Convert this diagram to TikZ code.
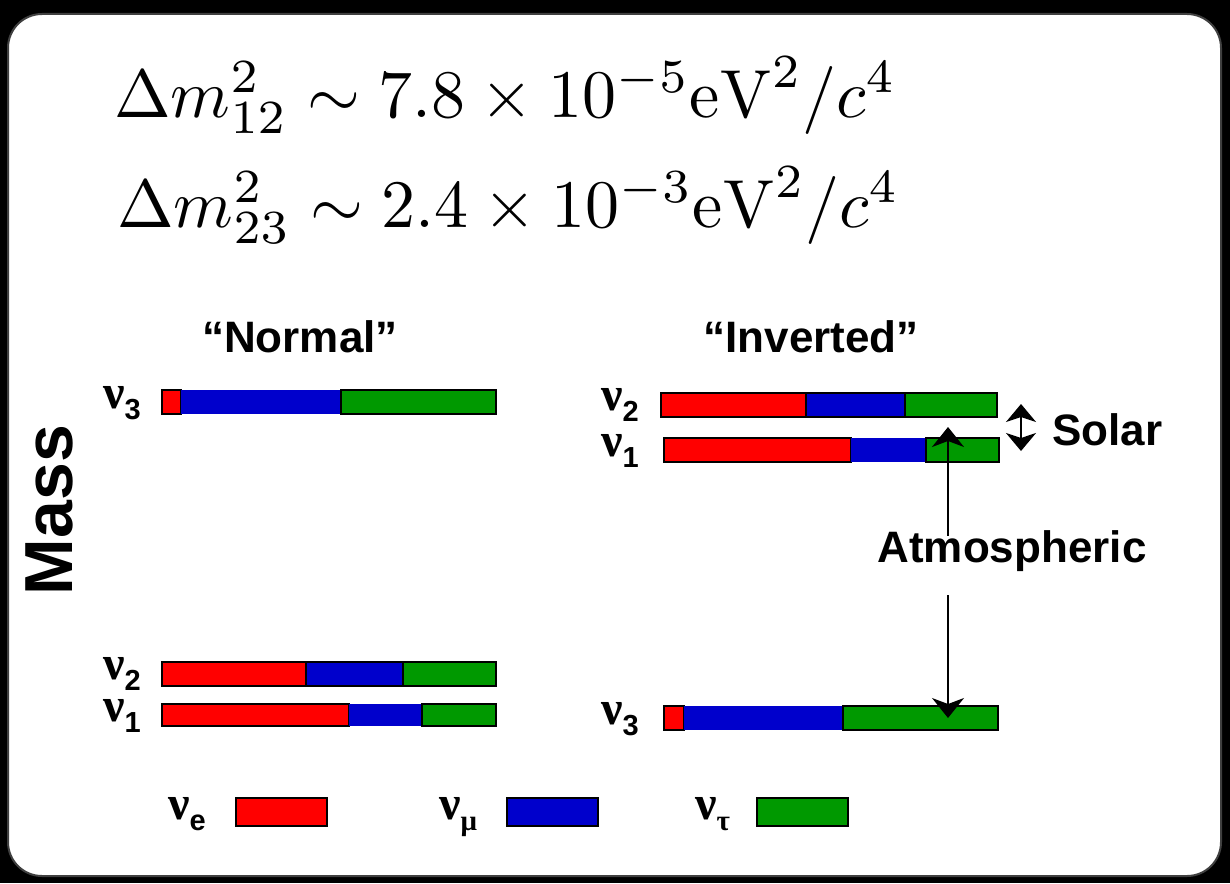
\documentclass[tikz,border=0pt]{standalone}
\usepackage[no-math]{fontspec}
\setmainfont{Liberation Sans}
\newfontfamily\nufont{Liberation Serif}
\usepackage{graphicx}
\usepackage{tikz}
\usetikzlibrary{arrows.meta,positioning}
\definecolor{nue}{HTML}{FF0000}
\definecolor{num}{HTML}{0000CC}
\definecolor{nut}{HTML}{009900}
\newcommand{\nulab}[1]{{\nufont\bfseries\fontsize{48}{48}\selectfont ν}\raisebox{-11pt}{\fontsize{29}{29}\selectfont\bfseries #1}}

\begin{document}
\begin{tikzpicture}[
  x=1pt, y=-1pt,
  seg/.style={rectangle,draw=black,line width=1.2pt,minimum height=24,
              inner sep=0pt,outer sep=0pt,anchor=west},
  key/.style={seg,minimum width=91,minimum height=28},
  lbl/.style={font=\fontsize{44}{48}\selectfont\bfseries,inner sep=0pt},
  nul/.style={inner sep=0pt,anchor=base west},
  eq/.style={inner sep=0pt,anchor=base west},
  arr/.style={-{Stealth[length=20pt,width=32pt,inset=6pt]},line width=1.6pt},
  arrs/.style={{Stealth[length=18pt,width=30pt,inset=5pt]}-{Stealth[length=18pt,width=30pt,inset=5pt]},
               line width=1.6pt},
]
% --- frame -----------------------------------------------------------------
\fill[black] (0,0) rectangle (1230,883);
\draw[fill=white,draw=gray!50!black,line width=2pt,rounded corners=34] (8,14) rectangle (1221,876);

% --- mass splittings --------------------------------------------------------
\node[eq] (dm12) at (114,117) {\scalebox{6.8}{$\Delta m^2_{12} \sim 7.8\times10^{-5}\mathrm{eV}^2/c^4$}};
\node[eq] (dm23) at (117,227) {\scalebox{6.8}{$\Delta m^2_{23} \sim 2.4\times10^{-3}\mathrm{eV}^2/c^4$}};

% --- headings --------------------------------------------------------------
\node[lbl,anchor=base] (hnorm) at (300,352) {“Normal”};
\node[lbl,anchor=base] (hinv)  at (811,352) {“Inverted”};
\node[lbl,font=\fontsize{68}{70}\selectfont\bfseries,rotate=90,anchor=base] (mass) at (72,510) {Mass};

% --- normal ordering ---------------------------------------------------------
\node[seg,fill=nue,minimum width=19] (n3e) at (162,402) {};
\node[seg,fill=num,draw=none,minimum width=160,right=0pt of n3e] (n3m) {};
\node[seg,fill=nut,minimum width=155,right=0pt of n3m] (n3t) {};

\node[seg,fill=nue,minimum width=144] (n2e) at (162,674) {};
\node[seg,fill=num,minimum width=97,right=0pt of n2e] (n2m) {};
\node[seg,fill=nut,minimum width=93,right=0pt of n2m] (n2t) {};

\node[seg,fill=nue,minimum width=187,minimum height=22] (n1e) at (162,715) {};
\node[seg,fill=num,draw=none,minimum width=73,minimum height=22,right=0pt of n1e] (n1m) {};
\node[seg,fill=nut,minimum width=74,minimum height=22,right=0pt of n1m] (n1t) {};

\node[nul] (ln3) at (103,408) {\nulab{3}};
\node[nul] (ln2) at (103,679) {\nulab{2}};
\node[nul] (ln1) at (103,721) {\nulab{1}};

% --- inverted ordering -------------------------------------------------------
\node[seg,fill=nue,minimum width=145] (i2e) at (661,405) {};
\node[seg,fill=num,minimum width=99,right=0pt of i2e] (i2m) {};
\node[seg,fill=nut,minimum width=92,right=0pt of i2m] (i2t) {};

\node[seg,fill=nue,minimum width=187] (i1e) at (664,450) {};
\node[seg,fill=num,draw=none,minimum width=75,right=0pt of i1e] (i1m) {};
\node[seg,fill=nut,minimum width=73,right=0pt of i1m] (i1t) {};

\node[seg,fill=nue,minimum width=20] (i3e) at (664,718) {};
\node[seg,fill=num,draw=none,minimum width=159,right=0pt of i3e] (i3m) {};
\node[seg,fill=nut,minimum width=155,right=0pt of i3m] (i3t) {};

\node[nul] (li2) at (601,410) {\nulab{2}};
\node[nul] (li1) at (601,456) {\nulab{1}};
\node[nul] (li3) at (601,724) {\nulab{3}};

% --- splittings arrows -------------------------------------------------------
\node[lbl,anchor=base west] (solar) at (1052,445) {Solar};
\node[lbl,anchor=base] (atm) at (1012,562) {Atmospheric};
\coordinate (stop) at (1021,404);
\coordinate (sbot) at (1021,451);
\coordinate (atop) at (948,427);
\coordinate (agap) at (948,595);
\coordinate (abot) at (948,718);
\draw[arrs] (stop) -- (sbot);
\draw[arr] ([yshift=-6pt]atm.north -| atop) -- (atop);
\draw[arr] (agap) -- (abot);

% --- legend ----------------------------------------------------------------
\node[nul] (le) at (168,819) {\nulab{e}};
\node[key,fill=nue] (ke) at (236,812) {};
\node[nul] (lm) at (439,819) {\nulab{\nufont μ}};
\node[key,fill=num] (km) at (507,812) {};
\node[nul] (lt) at (695,819) {\nulab{\nufont τ}};
\node[key,fill=nut] (kt) at (757,812) {};
\end{tikzpicture}
\end{document}
